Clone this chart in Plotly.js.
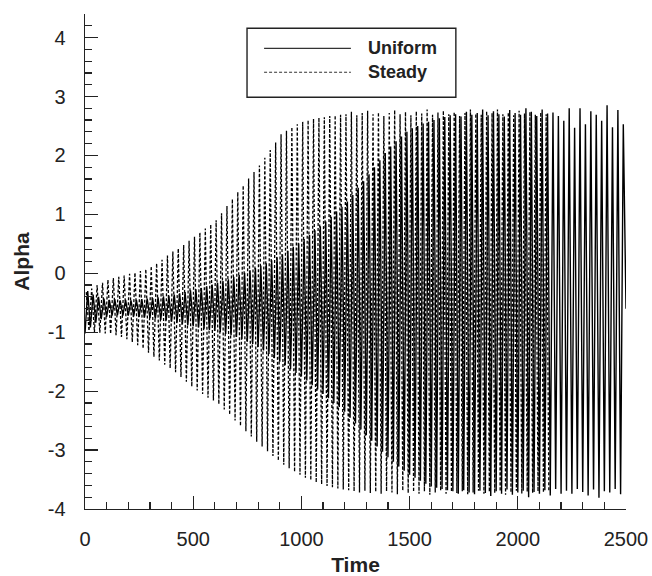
<!DOCTYPE html>
<html>
<head>
<meta charset="utf-8">
<script src="https://cdn.plot.ly/plotly-3.0.1.min.js"></script>
<style>
  html, body { margin: 0; padding: 0; background: #ffffff; }
  #chart { width: 652px; height: 576px; }
</style>
</head>
<body>
<div id="chart"></div>
<script>
// Oscillation period (time units per cycle)
const period = 25;

// Uniform: per-cycle minima and maxima (cycle k starts at t = 25k)
const uniformStart = 0;
const uniformMin = [
  -1.02, -0.92, -0.84, -0.78,
  -0.74, -0.72, -0.71, -0.72,
  -0.72, -0.73, -0.74, -0.75,
  -0.76, -0.77, -0.79, -0.80,
  -0.82, -0.84, -0.86, -0.88,
  -0.90, -0.92, -0.94, -0.96,
  -0.98, -1.00, -1.03, -1.05,
  -1.08, -1.12, -1.16, -1.20,
  -1.25, -1.31, -1.37, -1.44,
  -1.50, -1.56, -1.63, -1.69,
  -1.75, -1.82, -1.90, -1.97,
  -2.05, -2.12, -2.20, -2.27,
  -2.35, -2.45, -2.55, -2.65,
  -2.75, -2.84, -2.94, -3.03,
  -3.12, -3.20, -3.28, -3.35,
  -3.42, -3.47, -3.52, -3.57,
  -3.62, -3.64, -3.66, -3.68,
  -3.70, -3.74, -3.68, -3.72,
  -3.75, -3.69, -3.73, -3.78,
  -3.70, -3.74, -3.67, -3.76,
  -3.72, -3.69, -3.80, -3.71,
  -3.74, -3.68, -3.77, -3.66,
  -3.74, -3.69, -3.74, -3.66,
  -3.71, -3.77, -3.67, -3.81,
  -3.70, -3.72, -3.66, -3.75
];
const uniformMax = [
  -0.30, -0.36, -0.40, -0.43,
  -0.45, -0.44, -0.46, -0.45,
  -0.46, -0.45, -0.44, -0.43,
  -0.42, -0.41, -0.39, -0.38,
  -0.36, -0.34, -0.32, -0.29,
  -0.27, -0.25, -0.22, -0.19,
  -0.16, -0.13, -0.10, -0.06,
  -0.03, 0.01, 0.05, 0.09,
  0.13, 0.17, 0.22, 0.27,
  0.32, 0.38, 0.45, 0.51,
  0.58, 0.65, 0.73, 0.80,
  0.88, 0.96, 1.05, 1.13,
  1.22, 1.33, 1.45, 1.56,
  1.68, 1.80, 1.92, 2.04,
  2.15, 2.24, 2.32, 2.40,
  2.46, 2.50, 2.54, 2.57,
  2.60, 2.63, 2.65, 2.68,
  2.70, 2.66, 2.74, 2.69,
  2.72, 2.78, 2.68, 2.75,
  2.70, 2.66, 2.77, 2.72,
  2.69, 2.80, 2.74, 2.67,
  2.78, 2.71, 2.73, 2.67,
  2.59, 2.80, 2.47, 2.80,
  2.53, 2.75, 2.69, 2.59,
  2.85, 2.48, 2.77, 2.53
];
const uniformEnd = { time: 2500, alpha: -0.60 };

// Steady: per-cycle maxima and minima (cycle k starts at t = 6 + 25k)
const steadyStart = 6;
const steadyMax = [
  -0.32, -0.26, -0.20, -0.16,
  -0.11, -0.08, -0.06, -0.04,
  -0.01, 0.01, 0.04, 0.07,
  0.12, 0.17, 0.23, 0.30,
  0.37, 0.42, 0.48, 0.55,
  0.62, 0.69, 0.76, 0.83,
  0.90, 1.02, 1.14, 1.26,
  1.38, 1.49, 1.61, 1.72,
  1.83, 1.96, 2.09, 2.22,
  2.36, 2.42, 2.48, 2.53,
  2.57, 2.60, 2.62, 2.64,
  2.65, 2.67, 2.68, 2.69,
  2.70, 2.74, 2.68, 2.72,
  2.76, 2.70, 2.73, 2.67,
  2.72, 2.77, 2.70, 2.74,
  2.68, 2.75, 2.71, 2.78,
  2.69, 2.73, 2.76, 2.70,
  2.74, 2.67, 2.72, 2.78,
  2.71, 2.69, 2.75, 2.72,
  2.78, 2.70, 2.73, 2.68,
  2.76, 2.71, 2.74, 2.69,
  2.73, 2.70
];
const steadyMin = [
  -0.98, -1.00, -1.01, -1.02,
  -1.03, -1.05, -1.08, -1.12,
  -1.17, -1.22, -1.28, -1.35,
  -1.42, -1.48, -1.55, -1.61,
  -1.68, -1.76, -1.84, -1.92,
  -1.99, -2.05, -2.11, -2.16,
  -2.22, -2.31, -2.40, -2.50,
  -2.59, -2.68, -2.77, -2.86,
  -2.94, -3.02, -3.10, -3.18,
  -3.25, -3.31, -3.37, -3.42,
  -3.47, -3.51, -3.55, -3.58,
  -3.61, -3.63, -3.65, -3.67,
  -3.68, -3.70, -3.72, -3.69,
  -3.73, -3.71, -3.74, -3.70,
  -3.72, -3.75, -3.69, -3.73,
  -3.71, -3.74, -3.70, -3.76,
  -3.72, -3.69, -3.74, -3.71,
  -3.73, -3.70, -3.75, -3.72,
  -3.69, -3.74, -3.71, -3.73,
  -3.70, -3.76, -3.72, -3.69,
  -3.74, -3.71, -3.73, -3.70,
  -3.72, -3.71
];

const xTickVals = [0, 500, 1000, 1500, 2000, 2500];
const yTickVals = [-4, -3, -2, -1, 0, 1, 2, 3, 4];
const seriesNames = ['Uniform', 'Steady'];

// Build zig-zag series: first extreme at cycle start, second at half period
function buildSeries(start, first, second) {
  const t = [], a = [];
  for (let k = 0; k < first.length; k++) {
    t.push(start + k * period);
    a.push(first[k]);
    t.push(start + k * period + period / 2);
    a.push(second[k]);
  }
  return { t, a };
}

const uni = buildSeries(uniformStart, uniformMin, uniformMax);
uni.t.push(uniformEnd.time);
uni.a.push(uniformEnd.alpha);
const std = buildSeries(steadyStart, steadyMax, steadyMin);

const FONT = 'Liberation Sans, Arial, Helvetica, sans-serif';

const traces = [
  {
    x: std.t, y: std.a, type: 'scatter', mode: 'lines', name: seriesNames[1],
    line: { color: '#000000', width: 1.3, dash: '3px,2px' }, showlegend: false
  },
  {
    x: uni.t, y: uni.a, type: 'scatter', mode: 'lines', name: seriesNames[0],
    line: { color: '#000000', width: 1.4 }, showlegend: false
  }
];

// Legend drawn in the plot's paper coordinates
const legBox = { x0: 0.2995, x1: 0.6855, y0: 0.8318, y1: 0.9711 };
const legRows = [0.9307, 0.8823];
const legLine = { x0: 0.331, x1: 0.4915 };
const legTextX = 0.519;

const layout = {
  width: 652, height: 576,
  margin: { l: 85, r: 26, t: 14, b: 67, pad: 0 },
  paper_bgcolor: '#ffffff', plot_bgcolor: '#ffffff',
  font: { family: FONT, size: 20, color: '#222222' },
  showlegend: false,
  xaxis: {
    range: [0, 2500], tickvals: xTickVals, ticktext: xTickVals.map(String),
    ticks: 'inside', ticklen: 13, tickwidth: 1.2, tickcolor: '#222222',
    minor: { dtick: 100, ticks: 'inside', ticklen: 7, tickwidth: 1.2, tickcolor: '#222222' },
    showline: true, linecolor: '#222222', linewidth: 1.4, mirror: false,
    showgrid: false, zeroline: false,
    tickfont: { family: FONT, size: 20, color: '#222222' },
    ticklabelstandoff: 12,
    title: { text: '<b>Time</b>', font: { family: FONT, size: 21, color: '#222222' }, standoff: 10 },
    automargin: false
  },
  yaxis: {
    range: [-4, 4.4], tickvals: yTickVals, ticktext: yTickVals.map(String),
    ticks: 'inside', ticklen: 13, tickwidth: 1.2, tickcolor: '#222222',
    minor: { dtick: 0.2, ticks: 'inside', ticklen: 7, tickwidth: 1.2, tickcolor: '#222222' },
    showline: true, linecolor: '#222222', linewidth: 1.4, mirror: false,
    showgrid: false, zeroline: false,
    tickfont: { family: FONT, size: 20, color: '#222222' },
    ticklabelstandoff: 14,
    title: { text: '<b>Alpha</b>', font: { family: FONT, size: 21, color: '#222222' }, standoff: 12 },
    automargin: false
  },
  shapes: [
    { type: 'rect', xref: 'paper', yref: 'paper', x0: legBox.x0, x1: legBox.x1, y0: legBox.y0, y1: legBox.y1,
      line: { color: '#222222', width: 1.4 }, fillcolor: '#ffffff', layer: 'above' },
    { type: 'line', xref: 'paper', yref: 'paper', x0: legLine.x0, x1: legLine.x1, y0: legRows[0], y1: legRows[0],
      line: { color: '#333333', width: 1.2 }, layer: 'above' },
    { type: 'line', xref: 'paper', yref: 'paper', x0: legLine.x0, x1: legLine.x1, y0: legRows[1], y1: legRows[1],
      line: { color: '#333333', width: 1.2, dash: '3px,2px' }, layer: 'above' }
  ],
  annotations: seriesNames.map((n, i) => ({
    xref: 'paper', yref: 'paper', x: legTextX, y: legRows[i], xanchor: 'left', yanchor: 'middle',
    text: '<b>' + n + '</b>', showarrow: false,
    font: { family: FONT, size: 18, color: '#222222' }
  }))
};

Plotly.newPlot('chart', traces, layout, { displayModeBar: false, staticPlot: true });
</script>
</body>
</html>
